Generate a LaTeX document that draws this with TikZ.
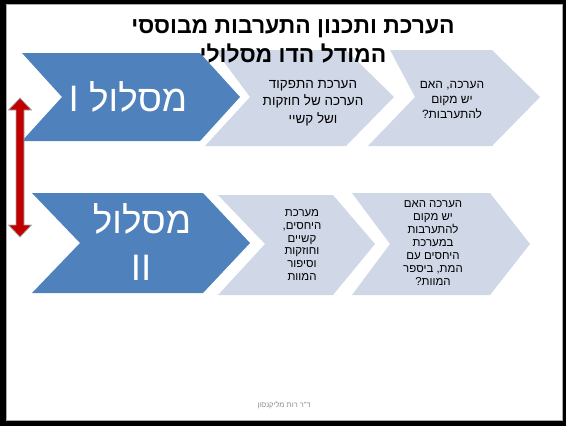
\documentclass[tikz,border=0pt]{standalone}
\usepackage{fontspec}
\setmainfont{Liberation Sans}[Script=Hebrew]
\usetikzlibrary{calc}
\TeXXeTstate=1
\newcommand{\hebrow}[1]{\beginR #1\endR}
\definecolor{trackblue}{RGB}{79,129,189}
\definecolor{steplight}{RGB}{208,216,232}
\definecolor{arrowred}{RGB}{192,0,0}
\definecolor{framegray}{RGB}{170,170,170}
\definecolor{footgray}{RGB}{140,140,140}
\tikzset{
  trackshape/.style={fill=trackblue},
  stepshape/.style={fill=steplight},
  bigtxt/.style={text=white, font=\fontsize{37}{44}\selectfont, inner sep=0pt},
  titletxt/.style={font=\bfseries\fontsize{23}{23}\selectfont, inner sep=0pt},
  steptxt/.style={align=center, inner sep=0pt, text=black},
  redarrow/.style={fill=arrowred, draw=framegray, line width=0.8bp, line join=miter}
}
\begin{document}
\begin{tikzpicture}[x=1bp, y=-1bp]
\useasboundingbox (0,0) rectangle (566,426);
% slide frame
\fill[black] (0,0) rectangle (566,426);
\fill[white, draw=framegray, line width=0.8bp] (6.5,4.5) rectangle (562.5,420.5);

% row I chevrons
\fill[stepshape] (390,50) -- (492,50) -- (540,97) -- (492,146) -- (368,146) -- (415,97) -- cycle;
\fill[stepshape] (215,50) -- (346,50) -- (394,97) -- (346,146) -- (205,146) -- (250,97) -- cycle;
\fill[trackshape] (22,53) -- (200,53) -- (240,97) -- (200,141) -- (22,141) -- (62,97) -- cycle;

% row II chevrons
\fill[stepshape] (352,193) -- (490,193) -- (530,244) -- (490,295) -- (352,295) -- (390,244) -- cycle;
\fill[stepshape] (218,195) -- (333,195) -- (375,244) -- (333,295) -- (218,295) -- (265,244) -- cycle;
\fill[trackshape] (32,193) -- (203,193) -- (250,243) -- (203,293) -- (32,293) -- (80,243) -- cycle;

% track labels
\node[bigtxt, anchor=base] (trackA) at (128,111) {\hebrow{מסלול I}};
\node[bigtxt, anchor=base] (trackB) at (142,233) {\hebrow{מסלול}};
\node[bigtxt, anchor=base] (trackBnum) at (141,280) {II};

% step labels
\node[steptxt, font=\fontsize{13.5}{17.5}\selectfont] (stepA2) at (313,103)
  {\hebrow{הערכת התפקוד}\\ \hebrow{הערכה של חוזקות}\\ \hebrow{ושל קשיי}};
\node[steptxt, font=\fontsize{12}{15}\selectfont] (stepA1) at (452,100)
  {\hebrow{הערכה, האם}\\ \hebrow{יש מקום}\\ \hebrow{להתערבות?}};
\node[steptxt, font=\fontsize{11.5}{13}\selectfont] (stepB2) at (302,245)
  {\hebrow{מערכת}\\ \hebrow{היחסים,}\\ \hebrow{קשיים}\\ \hebrow{וחוזקות}\\ \hebrow{וסיפור}\\ \hebrow{המוות}};
\node[steptxt, font=\fontsize{11.5}{13}\selectfont] (stepB1) at (433,243)
  {\hebrow{הערכה האם}\\ \hebrow{יש מקום}\\ \hebrow{להתערבות}\\ \hebrow{במערכת}\\ \hebrow{היחסים עם}\\ \hebrow{המת, ביספר}\\ \hebrow{המוות?}};

% title
\node[titletxt, anchor=base] (title1) at (293,33) {\hebrow{הערכת ותכנון התערבות מבוססי}};
\node[titletxt, anchor=base] (title2) at (293,62) {\hebrow{המודל הדו מסלולי}};

% double arrow between the two tracks
\coordinate (arrtop) at (20,98);
\coordinate (arrbot) at (20,237);
\draw[redarrow] (arrtop) -- ($(arrtop)+(11.5,12)$) -- ($(arrtop)+(4,12)$)
  -- ($(arrbot)+(4,-12)$) -- ($(arrbot)+(11.5,-12)$) -- (arrbot)
  -- ($(arrbot)+(-11.5,-12)$) -- ($(arrbot)+(-4,-12)$)
  -- ($(arrtop)+(-4,12)$) -- ($(arrtop)+(-11.5,12)$) -- cycle;

% footer
\node[text=footgray, font=\fontsize{7.5}{9}\selectfont, inner sep=0pt] (author) at (284,405) {\hebrow{ד"ר רות מליקנסון}};
\end{tikzpicture}
\end{document}
